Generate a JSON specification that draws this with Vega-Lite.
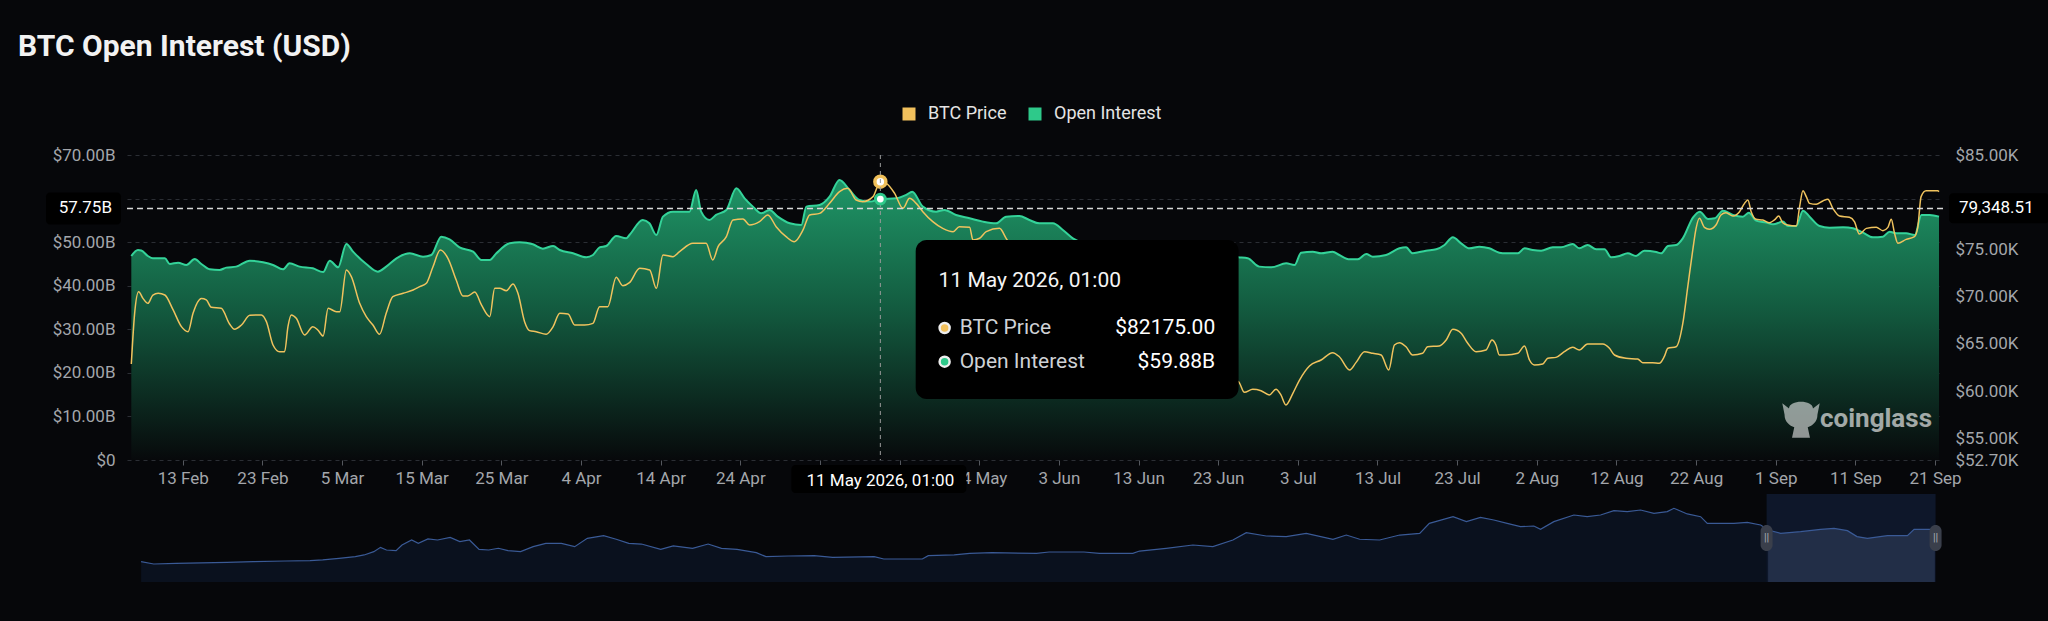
{
  "$schema": "https://vega.github.io/schema/vega-lite/v6.json",
  "background": "#06070a",
  "padding": {"left": 18, "top": 32, "right": 0, "bottom": 41},
  "config": {
    "font": "Roboto",
    "view": {"stroke": null},
    "axis": {"labelFont": "Roboto", "labelFontSize": 17, "labelColor": "#a3a6ab", "domain": false},
    "legend": {"labelFont": "Roboto"},
    "title": {"font": "Roboto"}
  },
  "datasets": {
    "oi": [
      {"date": "2026-02-06T13:00", "v": 46.82}, {"date": "2026-02-07T09:00", "v": 48.2}, {"date": "2026-02-07T19:00", "v": 48.1},
      {"date": "2026-02-08T15:00", "v": 46.82}, {"date": "2026-02-09T06:00", "v": 46.29}, {"date": "2026-02-10T18:00", "v": 46.29},
      {"date": "2026-02-11T09:00", "v": 44.99}, {"date": "2026-02-12T10:00", "v": 45.29}, {"date": "2026-02-13T11:00", "v": 44.76},
      {"date": "2026-02-14T12:00", "v": 46.14}, {"date": "2026-02-15T08:00", "v": 44.99}, {"date": "2026-02-16T09:00", "v": 43.76},
      {"date": "2026-02-17T15:00", "v": 43.61}, {"date": "2026-02-18T11:00", "v": 44.15}, {"date": "2026-02-19T17:00", "v": 44.38},
      {"date": "2026-02-21T10:00", "v": 45.75}, {"date": "2026-02-23T02:00", "v": 45.37}, {"date": "2026-02-24T08:00", "v": 44.76},
      {"date": "2026-02-25T14:00", "v": 43.76}, {"date": "2026-02-26T10:00", "v": 45.14}, {"date": "2026-02-27T16:00", "v": 44.38},
      {"date": "2026-03-01T08:00", "v": 43.99}, {"date": "2026-03-02T15:00", "v": 43.15}, {"date": "2026-03-03T11:00", "v": 45.75},
      {"date": "2026-03-04T12:00", "v": 44.22}, {"date": "2026-03-05T13:00", "v": 49.58}, {"date": "2026-03-06T09:00", "v": 47.82},
      {"date": "2026-03-08T01:00", "v": 44.99}, {"date": "2026-03-09T12:00", "v": 43.23}, {"date": "2026-03-10T13:00", "v": 44.38},
      {"date": "2026-03-11T20:00", "v": 46.29}, {"date": "2026-03-13T12:00", "v": 47.44}, {"date": "2026-03-15T04:00", "v": 46.67},
      {"date": "2026-03-16T05:00", "v": 47.05}, {"date": "2026-03-17T11:00", "v": 51.26}, {"date": "2026-03-18T12:00", "v": 50.65},
      {"date": "2026-03-19T18:00", "v": 48.81}, {"date": "2026-03-21T11:00", "v": 47.82}, {"date": "2026-03-22T12:00", "v": 45.91},
      {"date": "2026-03-23T13:00", "v": 45.91}, {"date": "2026-03-24T09:00", "v": 47.44}, {"date": "2026-03-26T01:00", "v": 49.73},
      {"date": "2026-03-27T07:00", "v": 49.96}, {"date": "2026-03-28T23:00", "v": 49.5}, {"date": "2026-03-30T05:00", "v": 48.51},
      {"date": "2026-03-31T12:00", "v": 49.12}, {"date": "2026-04-01T08:00", "v": 48.2}, {"date": "2026-04-03T00:00", "v": 47.44},
      {"date": "2026-04-04T16:00", "v": 46.52}, {"date": "2026-04-05T12:00", "v": 47.05}, {"date": "2026-04-06T08:00", "v": 48.81},
      {"date": "2026-04-07T04:00", "v": 49.12}, {"date": "2026-04-08T10:00", "v": 51.42}, {"date": "2026-04-09T16:00", "v": 50.88},
      {"date": "2026-04-10T02:00", "v": 51.64}, {"date": "2026-04-11T18:00", "v": 55.09}, {"date": "2026-04-12T14:00", "v": 54.32},
      {"date": "2026-04-13T11:00", "v": 51.64}, {"date": "2026-04-14T07:00", "v": 55.85}, {"date": "2026-04-15T13:00", "v": 57.0},
      {"date": "2026-04-17T15:00", "v": 57.0}, {"date": "2026-04-18T11:00", "v": 61.97}, {"date": "2026-04-19T02:00", "v": 57.0},
      {"date": "2026-04-20T03:00", "v": 55.09}, {"date": "2026-04-20T23:00", "v": 56.24}, {"date": "2026-04-22T06:00", "v": 57.38},
      {"date": "2026-04-23T12:00", "v": 62.36}, {"date": "2026-04-24T13:00", "v": 60.06}, {"date": "2026-04-25T14:00", "v": 58.15},
      {"date": "2026-04-26T15:00", "v": 56.62}, {"date": "2026-04-27T16:00", "v": 57.38}, {"date": "2026-04-28T17:00", "v": 55.85},
      {"date": "2026-04-30T05:00", "v": 54.32}, {"date": "2026-05-01T16:00", "v": 53.94}, {"date": "2026-05-02T07:00", "v": 58.15},
      {"date": "2026-05-03T23:00", "v": 58.53}, {"date": "2026-05-05T05:00", "v": 60.44}, {"date": "2026-05-06T11:00", "v": 64.27},
      {"date": "2026-05-07T17:00", "v": 61.97}, {"date": "2026-05-08T23:00", "v": 59.68}, {"date": "2026-05-10T06:00", "v": 59.3},
      {"date": "2026-05-11T14:00", "v": 59.88}, {"date": "2026-05-13T14:00", "v": 60.06}, {"date": "2026-05-14T20:00", "v": 60.83},
      {"date": "2026-05-15T14:00", "v": 61.59}, {"date": "2026-05-16T22:00", "v": 58.15}, {"date": "2026-05-18T14:00", "v": 57.0},
      {"date": "2026-05-19T15:00", "v": 57.38}, {"date": "2026-05-21T02:00", "v": 56.24}, {"date": "2026-05-22T19:00", "v": 55.47},
      {"date": "2026-05-24T11:00", "v": 54.71}, {"date": "2026-05-26T03:00", "v": 54.32}, {"date": "2026-05-27T09:00", "v": 55.85},
      {"date": "2026-05-29T01:00", "v": 56.01}, {"date": "2026-05-30T07:00", "v": 55.09}, {"date": "2026-05-31T13:00", "v": 54.32},
      {"date": "2026-06-02T06:00", "v": 54.32}, {"date": "2026-06-03T12:00", "v": 52.79}, {"date": "2026-06-04T18:00", "v": 50.88},
      {"date": "2026-06-06T12:00", "v": 49.5}, {"date": "2026-06-09T00:00", "v": 48.9}, {"date": "2026-06-12T00:00", "v": 48.4},
      {"date": "2026-06-15T00:00", "v": 48.1}, {"date": "2026-06-18T00:00", "v": 47.6}, {"date": "2026-06-21T00:00", "v": 47.3},
      {"date": "2026-06-23T12:00", "v": 47.0}, {"date": "2026-06-25T13:00", "v": 46.52}, {"date": "2026-06-26T17:00", "v": 46.29},
      {"date": "2026-06-28T04:00", "v": 44.38}, {"date": "2026-06-29T16:00", "v": 44.22}, {"date": "2026-07-01T13:00", "v": 45.14},
      {"date": "2026-07-02T14:00", "v": 44.76}, {"date": "2026-07-03T10:00", "v": 47.59}, {"date": "2026-07-04T21:00", "v": 47.82},
      {"date": "2026-07-05T22:00", "v": 47.44}, {"date": "2026-07-07T09:00", "v": 47.82}, {"date": "2026-07-08T05:00", "v": 47.05},
      {"date": "2026-07-09T12:00", "v": 46.06}, {"date": "2026-07-10T12:00", "v": 46.06}, {"date": "2026-07-11T14:00", "v": 47.28},
      {"date": "2026-07-12T10:00", "v": 46.67}, {"date": "2026-07-14T02:00", "v": 47.05}, {"date": "2026-07-15T18:00", "v": 48.58},
      {"date": "2026-07-16T14:00", "v": 48.81}, {"date": "2026-07-17T10:00", "v": 47.44}, {"date": "2026-07-19T02:00", "v": 48.05},
      {"date": "2026-07-20T09:00", "v": 48.36}, {"date": "2026-07-21T10:00", "v": 49.35}, {"date": "2026-07-22T11:00", "v": 51.11},
      {"date": "2026-07-23T12:00", "v": 49.73}, {"date": "2026-07-24T13:00", "v": 48.58}, {"date": "2026-07-25T19:00", "v": 48.97},
      {"date": "2026-07-27T01:00", "v": 48.58}, {"date": "2026-07-28T07:00", "v": 47.59}, {"date": "2026-07-29T03:00", "v": 47.44},
      {"date": "2026-07-30T15:00", "v": 47.44}, {"date": "2026-07-31T11:00", "v": 48.58}, {"date": "2026-08-01T12:00", "v": 48.2},
      {"date": "2026-08-02T13:00", "v": 48.05}, {"date": "2026-08-04T00:00", "v": 48.81}, {"date": "2026-08-05T01:00", "v": 48.81},
      {"date": "2026-08-06T12:00", "v": 49.58}, {"date": "2026-08-07T08:00", "v": 48.58}, {"date": "2026-08-08T09:00", "v": 49.35},
      {"date": "2026-08-09T11:00", "v": 48.36}, {"date": "2026-08-10T12:00", "v": 48.36}, {"date": "2026-08-11T08:00", "v": 46.52},
      {"date": "2026-08-12T09:00", "v": 46.82}, {"date": "2026-08-13T10:00", "v": 47.44}, {"date": "2026-08-14T11:00", "v": 46.82},
      {"date": "2026-08-15T12:00", "v": 48.05}, {"date": "2026-08-17T00:00", "v": 47.74}, {"date": "2026-08-17T15:00", "v": 47.44},
      {"date": "2026-08-18T11:00", "v": 49.12}, {"date": "2026-08-19T12:00", "v": 49.35}, {"date": "2026-08-20T08:00", "v": 50.88},
      {"date": "2026-08-21T15:00", "v": 55.7}, {"date": "2026-08-22T11:00", "v": 57.0}, {"date": "2026-08-23T12:00", "v": 55.32},
      {"date": "2026-08-24T08:00", "v": 55.47}, {"date": "2026-08-25T09:00", "v": 57.23}, {"date": "2026-08-26T15:00", "v": 56.24},
      {"date": "2026-08-27T21:00", "v": 55.85}, {"date": "2026-08-28T15:00", "v": 56.77}, {"date": "2026-08-29T13:00", "v": 54.93},
      {"date": "2026-08-30T20:00", "v": 54.48}, {"date": "2026-08-31T16:00", "v": 54.09}, {"date": "2026-09-01T22:00", "v": 54.71},
      {"date": "2026-09-02T13:00", "v": 53.71}, {"date": "2026-09-03T14:00", "v": 53.71}, {"date": "2026-09-04T10:00", "v": 57.23},
      {"date": "2026-09-05T06:00", "v": 55.85}, {"date": "2026-09-06T12:00", "v": 53.71}, {"date": "2026-09-07T18:00", "v": 53.33},
      {"date": "2026-09-09T11:00", "v": 53.4}, {"date": "2026-09-10T17:00", "v": 53.18}, {"date": "2026-09-11T23:00", "v": 52.18},
      {"date": "2026-09-13T05:00", "v": 51.11}, {"date": "2026-09-14T11:00", "v": 51.26}, {"date": "2026-09-15T07:00", "v": 52.41},
      {"date": "2026-09-16T03:00", "v": 52.03}, {"date": "2026-09-17T09:00", "v": 52.03}, {"date": "2026-09-18T11:00", "v": 51.64},
      {"date": "2026-09-19T07:00", "v": 56.24}, {"date": "2026-09-20T08:00", "v": 56.24}, {"date": "2026-09-21T12:00", "v": 55.85}
    ],
    "price": [
      {"date": "2026-02-06T13:00", "p": 62870}, {"date": "2026-02-06T23:00", "p": 68230}, {"date": "2026-02-07T11:00", "p": 70530},
      {"date": "2026-02-08T00:00", "p": 69820}, {"date": "2026-02-08T15:00", "p": 69290}, {"date": "2026-02-09T06:00", "p": 70170},
      {"date": "2026-02-09T22:00", "p": 70350}, {"date": "2026-02-10T18:00", "p": 70170}, {"date": "2026-02-11T19:00", "p": 68590},
      {"date": "2026-02-12T20:00", "p": 66820}, {"date": "2026-02-13T16:00", "p": 66290}, {"date": "2026-02-14T07:00", "p": 68230},
      {"date": "2026-02-15T08:00", "p": 69790}, {"date": "2026-02-15T23:00", "p": 69650}, {"date": "2026-02-16T14:00", "p": 68870},
      {"date": "2026-02-17T20:00", "p": 68760}, {"date": "2026-02-18T21:00", "p": 67100}, {"date": "2026-02-19T12:00", "p": 66540},
      {"date": "2026-02-20T09:00", "p": 67000}, {"date": "2026-02-21T10:00", "p": 68020}, {"date": "2026-02-22T21:00", "p": 68060},
      {"date": "2026-02-23T12:00", "p": 67350}, {"date": "2026-02-24T08:00", "p": 64880}, {"date": "2026-02-25T04:00", "p": 64170},
      {"date": "2026-02-25T19:00", "p": 64170}, {"date": "2026-02-26T05:00", "p": 66820}, {"date": "2026-02-26T15:00", "p": 68060},
      {"date": "2026-02-27T06:00", "p": 67700}, {"date": "2026-02-28T07:00", "p": 65940}, {"date": "2026-03-01T08:00", "p": 66820},
      {"date": "2026-03-01T23:00", "p": 66470}, {"date": "2026-03-02T15:00", "p": 65830}, {"date": "2026-03-03T06:00", "p": 68760},
      {"date": "2026-03-04T07:00", "p": 68410}, {"date": "2026-03-04T17:00", "p": 68410}, {"date": "2026-03-05T13:00", "p": 72820},
      {"date": "2026-03-06T04:00", "p": 72120}, {"date": "2026-03-07T05:00", "p": 69290}, {"date": "2026-03-08T01:00", "p": 67880},
      {"date": "2026-03-08T21:00", "p": 67000}, {"date": "2026-03-09T17:00", "p": 66010}, {"date": "2026-03-10T13:00", "p": 68230},
      {"date": "2026-03-11T09:00", "p": 70000}, {"date": "2026-03-12T16:00", "p": 70350}, {"date": "2026-03-13T22:00", "p": 70700},
      {"date": "2026-03-14T18:00", "p": 71060}, {"date": "2026-03-15T14:00", "p": 71410}, {"date": "2026-03-16T10:00", "p": 73170},
      {"date": "2026-03-17T08:00", "p": 74940}, {"date": "2026-03-18T07:00", "p": 74060}, {"date": "2026-03-19T08:00", "p": 71760},
      {"date": "2026-03-20T04:00", "p": 70070}, {"date": "2026-03-20T19:00", "p": 70070}, {"date": "2026-03-21T16:00", "p": 70490},
      {"date": "2026-03-22T12:00", "p": 69120}, {"date": "2026-03-23T13:00", "p": 67880}, {"date": "2026-03-24T04:00", "p": 70880},
      {"date": "2026-03-24T19:00", "p": 70880}, {"date": "2026-03-25T15:00", "p": 70630}, {"date": "2026-03-26T11:00", "p": 71340},
      {"date": "2026-03-27T02:00", "p": 70350}, {"date": "2026-03-27T22:00", "p": 67350}, {"date": "2026-03-28T13:00", "p": 66400},
      {"date": "2026-03-29T09:00", "p": 66290}, {"date": "2026-03-30T15:00", "p": 66010}, {"date": "2026-03-31T12:00", "p": 66820},
      {"date": "2026-04-01T08:00", "p": 68230}, {"date": "2026-04-02T09:00", "p": 68160}, {"date": "2026-04-03T05:00", "p": 67000},
      {"date": "2026-04-04T11:00", "p": 67000}, {"date": "2026-04-05T12:00", "p": 67170}, {"date": "2026-04-06T08:00", "p": 68940},
      {"date": "2026-04-07T09:00", "p": 68940}, {"date": "2026-04-08T10:00", "p": 72050}, {"date": "2026-04-09T06:00", "p": 71160},
      {"date": "2026-04-10T02:00", "p": 71480}, {"date": "2026-04-11T09:00", "p": 73000}, {"date": "2026-04-12T15:00", "p": 72820},
      {"date": "2026-04-13T11:00", "p": 70880}, {"date": "2026-04-14T07:00", "p": 74410}, {"date": "2026-04-15T13:00", "p": 74230},
      {"date": "2026-04-16T09:00", "p": 74760}, {"date": "2026-04-18T01:00", "p": 75650}, {"date": "2026-04-19T17:00", "p": 75650},
      {"date": "2026-04-20T13:00", "p": 73880}, {"date": "2026-04-21T05:00", "p": 75290}, {"date": "2026-04-22T06:00", "p": 76350},
      {"date": "2026-04-23T02:00", "p": 78120}, {"date": "2026-04-24T08:00", "p": 78220}, {"date": "2026-04-25T04:00", "p": 77590},
      {"date": "2026-04-26T10:00", "p": 77940}, {"date": "2026-04-27T11:00", "p": 78650}, {"date": "2026-04-28T12:00", "p": 77410},
      {"date": "2026-04-29T18:00", "p": 76350}, {"date": "2026-04-30T19:00", "p": 75820}, {"date": "2026-05-01T21:00", "p": 77060},
      {"date": "2026-05-02T17:00", "p": 78650}, {"date": "2026-05-03T23:00", "p": 78820}, {"date": "2026-05-05T05:00", "p": 79880},
      {"date": "2026-05-06T11:00", "p": 81120}, {"date": "2026-05-07T12:00", "p": 81470}, {"date": "2026-05-08T13:00", "p": 80230},
      {"date": "2026-05-09T09:00", "p": 80060}, {"date": "2026-05-10T16:00", "p": 80590}, {"date": "2026-05-11T14:00", "p": 82175},
      {"date": "2026-05-12T08:00", "p": 82000}, {"date": "2026-05-13T09:00", "p": 80940}, {"date": "2026-05-14T10:00", "p": 79350},
      {"date": "2026-05-15T06:00", "p": 80410}, {"date": "2026-05-16T02:00", "p": 79880}, {"date": "2026-05-16T22:00", "p": 79000},
      {"date": "2026-05-18T04:00", "p": 77940}, {"date": "2026-05-19T10:00", "p": 77230}, {"date": "2026-05-20T17:00", "p": 76880},
      {"date": "2026-05-21T12:00", "p": 77410}, {"date": "2026-05-22T19:00", "p": 77340}, {"date": "2026-05-23T05:00", "p": 76000},
      {"date": "2026-05-24T01:00", "p": 76180}, {"date": "2026-05-24T21:00", "p": 76880}, {"date": "2026-05-26T13:00", "p": 77230},
      {"date": "2026-05-27T09:00", "p": 76180}, {"date": "2026-05-28T06:00", "p": 75000}, {"date": "2026-05-30T00:00", "p": 73600},
      {"date": "2026-06-01T12:00", "p": 72000}, {"date": "2026-06-04T00:00", "p": 70200}, {"date": "2026-06-07T00:00", "p": 68500},
      {"date": "2026-06-10T00:00", "p": 67000}, {"date": "2026-06-13T00:00", "p": 65400}, {"date": "2026-06-16T00:00", "p": 64000},
      {"date": "2026-06-19T00:00", "p": 62600}, {"date": "2026-06-22T00:00", "p": 61700}, {"date": "2026-06-25T13:00", "p": 61000},
      {"date": "2026-06-26T07:00", "p": 59870}, {"date": "2026-06-27T08:00", "p": 60190}, {"date": "2026-06-28T09:00", "p": 60040},
      {"date": "2026-06-29T10:00", "p": 59590}, {"date": "2026-06-30T06:00", "p": 60190}, {"date": "2026-06-30T21:00", "p": 59590},
      {"date": "2026-07-01T12:00", "p": 58530}, {"date": "2026-07-02T09:00", "p": 59760}, {"date": "2026-07-03T05:00", "p": 61170},
      {"date": "2026-07-04T11:00", "p": 62660}, {"date": "2026-07-05T22:00", "p": 63290}, {"date": "2026-07-07T09:00", "p": 64070},
      {"date": "2026-07-08T05:00", "p": 63640}, {"date": "2026-07-09T12:00", "p": 62230}, {"date": "2026-07-10T07:00", "p": 63010},
      {"date": "2026-07-11T09:00", "p": 64170}, {"date": "2026-07-12T10:00", "p": 64000}, {"date": "2026-07-13T11:00", "p": 63820},
      {"date": "2026-07-14T10:00", "p": 62230}, {"date": "2026-07-15T03:00", "p": 64880}, {"date": "2026-07-15T18:00", "p": 65130},
      {"date": "2026-07-16T14:00", "p": 64700}, {"date": "2026-07-17T10:00", "p": 63820}, {"date": "2026-07-18T16:00", "p": 64000},
      {"date": "2026-07-19T07:00", "p": 64700}, {"date": "2026-07-20T18:00", "p": 64770}, {"date": "2026-07-21T15:00", "p": 65410},
      {"date": "2026-07-22T11:00", "p": 66540}, {"date": "2026-07-23T12:00", "p": 66120}, {"date": "2026-07-24T08:00", "p": 65060},
      {"date": "2026-07-25T09:00", "p": 64170}, {"date": "2026-07-26T15:00", "p": 64350}, {"date": "2026-07-27T09:00", "p": 65410},
      {"date": "2026-07-27T21:00", "p": 64880}, {"date": "2026-07-28T07:00", "p": 63820}, {"date": "2026-07-29T03:00", "p": 63820},
      {"date": "2026-07-30T15:00", "p": 64000}, {"date": "2026-07-31T11:00", "p": 64770}, {"date": "2026-08-01T02:00", "p": 63290},
      {"date": "2026-08-01T17:00", "p": 62760}, {"date": "2026-08-02T18:00", "p": 62870}, {"date": "2026-08-03T09:00", "p": 63470},
      {"date": "2026-08-04T10:00", "p": 63570}, {"date": "2026-08-05T11:00", "p": 64170}, {"date": "2026-08-06T12:00", "p": 64630},
      {"date": "2026-08-07T08:00", "p": 64350}, {"date": "2026-08-08T09:00", "p": 64990}, {"date": "2026-08-10T07:00", "p": 64990},
      {"date": "2026-08-11T03:00", "p": 64530}, {"date": "2026-08-11T18:00", "p": 63820}, {"date": "2026-08-13T05:00", "p": 63470},
      {"date": "2026-08-14T16:00", "p": 63400}, {"date": "2026-08-15T07:00", "p": 63010}, {"date": "2026-08-16T13:00", "p": 63010},
      {"date": "2026-08-17T09:00", "p": 62940}, {"date": "2026-08-18T00:00", "p": 63640}, {"date": "2026-08-18T11:00", "p": 64530},
      {"date": "2026-08-19T12:00", "p": 64700}, {"date": "2026-08-20T08:00", "p": 67170}, {"date": "2026-08-20T23:00", "p": 71060},
      {"date": "2026-08-21T14:00", "p": 74940}, {"date": "2026-08-22T00:00", "p": 77230}, {"date": "2026-08-22T10:00", "p": 78290},
      {"date": "2026-08-23T01:00", "p": 77340}, {"date": "2026-08-23T16:00", "p": 77130}, {"date": "2026-08-24T12:00", "p": 77590},
      {"date": "2026-08-25T03:00", "p": 78650}, {"date": "2026-08-25T18:00", "p": 78890}, {"date": "2026-08-26T15:00", "p": 78540},
      {"date": "2026-08-27T11:00", "p": 79000}, {"date": "2026-08-28T02:00", "p": 79880}, {"date": "2026-08-28T12:00", "p": 80230},
      {"date": "2026-08-28T22:00", "p": 79000}, {"date": "2026-08-29T13:00", "p": 78190}, {"date": "2026-08-30T09:00", "p": 78120},
      {"date": "2026-08-31T05:00", "p": 77830}, {"date": "2026-08-31T20:00", "p": 78120}, {"date": "2026-09-01T09:00", "p": 78540},
      {"date": "2026-09-01T21:00", "p": 77830}, {"date": "2026-09-02T12:00", "p": 77590}, {"date": "2026-09-03T14:00", "p": 77480},
      {"date": "2026-09-04T00:00", "p": 79530}, {"date": "2026-09-04T10:00", "p": 81220}, {"date": "2026-09-04T20:00", "p": 80590},
      {"date": "2026-09-05T06:00", "p": 79880}, {"date": "2026-09-06T02:00", "p": 79780}, {"date": "2026-09-06T22:00", "p": 80130},
      {"date": "2026-09-07T13:00", "p": 80310}, {"date": "2026-09-08T04:00", "p": 79350}, {"date": "2026-09-09T00:00", "p": 78540},
      {"date": "2026-09-10T06:00", "p": 78400}, {"date": "2026-09-10T21:00", "p": 77940}, {"date": "2026-09-11T12:00", "p": 76630},
      {"date": "2026-09-12T09:00", "p": 77230}, {"date": "2026-09-13T15:00", "p": 77340}, {"date": "2026-09-14T11:00", "p": 76990},
      {"date": "2026-09-15T02:00", "p": 77340}, {"date": "2026-09-15T12:00", "p": 78190}, {"date": "2026-09-15T22:00", "p": 76700},
      {"date": "2026-09-16T08:00", "p": 75650}, {"date": "2026-09-17T09:00", "p": 76070}, {"date": "2026-09-18T10:00", "p": 76350},
      {"date": "2026-09-18T20:00", "p": 77340}, {"date": "2026-09-19T06:00", "p": 80590}, {"date": "2026-09-19T21:00", "p": 81220},
      {"date": "2026-09-21T08:00", "p": 81220}, {"date": "2026-09-21T12:00", "p": 81120}
    ],
    "cross": [
      {"date": "2026-05-11T14:00", "v": 59.88, "p": 82175, "hv": 57.75, "hp": 79348.51, "hvText": "57.75B", "hpText": "79,348.51", "label": "11 May 2026, 01:00"}
    ],
    "tip": [{"date": "2026-05-16T00:30", "date2": "2026-06-25T13:30", "v": 50.49, "v2": 14.0}],
    "tiptitle": [{"text": "11 May 2026, 01:00", "v": 39.78}],
    "tiprows": [
      {"series": "BTC Price", "value": "$82175.00", "v": 30.3},
      {"series": "Open Interest", "value": "$59.88B", "v": 22.56}
    ],
    "wm": [{"text": "coinglass"}],
    "mini": [
      {"date": "2020-02-05", "m": 19.2}, {"date": "2020-02-22", "m": 17.0}, {"date": "2020-03-23", "m": 17.6}, {"date": "2020-05-31", "m": 18.6},
      {"date": "2020-07-05", "m": 19.2}, {"date": "2020-08-17", "m": 19.8}, {"date": "2020-09-20", "m": 20.1}, {"date": "2020-10-07", "m": 20.8},
      {"date": "2020-10-29", "m": 22.3}, {"date": "2020-11-20", "m": 23.9}, {"date": "2020-12-02", "m": 25.5}, {"date": "2020-12-15", "m": 28.6},
      {"date": "2020-12-24", "m": 32.7}, {"date": "2021-01-01", "m": 30.2}, {"date": "2021-01-14", "m": 29.6}, {"date": "2021-01-22", "m": 34.9},
      {"date": "2021-02-04", "m": 39.6}, {"date": "2021-02-13", "m": 36.5}, {"date": "2021-02-26", "m": 40.6}, {"date": "2021-03-11", "m": 39.6},
      {"date": "2021-03-28", "m": 42.1}, {"date": "2021-04-10", "m": 38.1}, {"date": "2021-04-23", "m": 39.6}, {"date": "2021-05-06", "m": 30.8},
      {"date": "2021-05-19", "m": 30.2}, {"date": "2021-06-01", "m": 31.8}, {"date": "2021-06-14", "m": 29.6}, {"date": "2021-07-01", "m": 28.6},
      {"date": "2021-07-18", "m": 33.3}, {"date": "2021-08-04", "m": 36.5}, {"date": "2021-08-25", "m": 36.5}, {"date": "2021-09-12", "m": 33.3},
      {"date": "2021-09-29", "m": 41.2}, {"date": "2021-10-21", "m": 43.7}, {"date": "2021-11-07", "m": 40.3}, {"date": "2021-11-24", "m": 36.5},
      {"date": "2021-12-11", "m": 35.8}, {"date": "2022-01-06", "m": 30.8}, {"date": "2022-01-23", "m": 34.0}, {"date": "2022-02-18", "m": 31.8},
      {"date": "2022-03-11", "m": 35.8}, {"date": "2022-03-29", "m": 31.8}, {"date": "2022-04-19", "m": 30.8}, {"date": "2022-05-15", "m": 27.7},
      {"date": "2022-05-28", "m": 23.9}, {"date": "2022-06-27", "m": 24.5}, {"date": "2022-08-01", "m": 24.8}, {"date": "2022-08-26", "m": 23.3},
      {"date": "2022-10-21", "m": 23.9}, {"date": "2022-11-03", "m": 21.7}, {"date": "2022-12-25", "m": 21.7}, {"date": "2023-01-02", "m": 24.8},
      {"date": "2023-02-06", "m": 25.5}, {"date": "2023-02-27", "m": 27.0}, {"date": "2023-03-29", "m": 27.7}, {"date": "2023-05-28", "m": 27.0},
      {"date": "2023-06-14", "m": 28.3}, {"date": "2023-07-31", "m": 28.3}, {"date": "2023-08-21", "m": 27.0}, {"date": "2023-10-05", "m": 27.0},
      {"date": "2023-10-14", "m": 29.2}, {"date": "2023-11-19", "m": 31.8}, {"date": "2023-12-25", "m": 34.9}, {"date": "2024-01-21", "m": 33.3},
      {"date": "2024-02-17", "m": 39.6}, {"date": "2024-03-06", "m": 46.5}, {"date": "2024-04-02", "m": 43.4}, {"date": "2024-04-29", "m": 42.8},
      {"date": "2024-05-26", "m": 45.9}, {"date": "2024-07-01", "m": 40.3}, {"date": "2024-07-19", "m": 44.3}, {"date": "2024-08-06", "m": 40.3},
      {"date": "2024-09-02", "m": 39.6}, {"date": "2024-09-29", "m": 44.3}, {"date": "2024-10-26", "m": 45.9}, {"date": "2024-11-08", "m": 55.3},
      {"date": "2024-12-10", "m": 61.6}, {"date": "2024-12-28", "m": 56.9}, {"date": "2025-01-16", "m": 61.0}, {"date": "2025-02-03", "m": 58.5},
      {"date": "2025-02-21", "m": 55.3}, {"date": "2025-03-11", "m": 52.2}, {"date": "2025-03-29", "m": 52.8}, {"date": "2025-04-07", "m": 49.7},
      {"date": "2025-04-25", "m": 56.9}, {"date": "2025-05-22", "m": 63.2}, {"date": "2025-06-09", "m": 61.6}, {"date": "2025-06-27", "m": 63.2},
      {"date": "2025-07-15", "m": 67.3}, {"date": "2025-08-02", "m": 66.4}, {"date": "2025-08-20", "m": 67.9}, {"date": "2025-09-07", "m": 64.8},
      {"date": "2025-09-25", "m": 66.4}, {"date": "2025-10-04", "m": 69.5}, {"date": "2025-10-22", "m": 64.2}, {"date": "2025-11-09", "m": 61.6},
      {"date": "2025-11-18", "m": 55.3}, {"date": "2025-12-06", "m": 55.3}, {"date": "2025-12-24", "m": 55.3}, {"date": "2026-01-11", "m": 56.3},
      {"date": "2026-01-29", "m": 53.8}, {"date": "2026-02-08", "m": 49.0}, {"date": "2026-02-25", "m": 45.9}, {"date": "2026-03-24", "m": 47.5},
      {"date": "2026-04-20", "m": 49.7}, {"date": "2026-05-08", "m": 50.6}, {"date": "2026-05-26", "m": 48.4}, {"date": "2026-06-08", "m": 42.8},
      {"date": "2026-06-22", "m": 41.2}, {"date": "2026-07-19", "m": 43.7}, {"date": "2026-08-15", "m": 43.7}, {"date": "2026-08-24", "m": 49.7},
      {"date": "2026-09-16", "m": 49.7}, {"date": "2026-09-21", "m": 49.7}
    ],
    "win": [{"date": "2026-02-06", "date2": "2026-09-22"}],
    "handles": [{"date": "2026-02-06"}, {"date": "2026-09-22"}]
  },
  "spacing": 34,
  "bounds": "flush",
  "resolve": {"scale": {"color": "independent"}, "legend": {"color": "independent"}},
  "vconcat": [
    {
      "width": 1816,
      "height": 305,
      "title": {"text": "BTC Open Interest (USD)", "anchor": "start", "frame": "group", "dx": -109, "offset": 43, "fontSize": 30, "fontWeight": "bold", "color": "#f2f2f2", "font": "Roboto"},
      "resolve": {"scale": {"y": "independent"}},
      "layer": [
        {
          "layer": [
            {
              "data": {"name": "oi"},
              "mark": {"type": "area", "interpolate": "monotone", "fill": {"gradient": "linear", "x1": 0, "y1": 0, "x2": 0, "y2": 1, "stops": [{"offset": 0, "color": "#1f9667"}, {"offset": 0.45, "color": "#135c40"}, {"offset": 1, "color": "#07090b"}]}},
              "encoding": {
                "x": {"field": "date", "type": "temporal", "title": null,
                  "scale": {"domain": [{"year": 2026, "month": 2, "date": 6}, {"year": 2026, "month": 9, "date": 22}]},
                  "axis": {"values": [
                    {"year": 2026, "month": 2, "date": 13}, {"year": 2026, "month": 2, "date": 23}, {"year": 2026, "month": 3, "date": 5},
                    {"year": 2026, "month": 3, "date": 15}, {"year": 2026, "month": 3, "date": 25}, {"year": 2026, "month": 4, "date": 4},
                    {"year": 2026, "month": 4, "date": 14}, {"year": 2026, "month": 4, "date": 24}, {"year": 2026, "month": 5, "date": 4},
                    {"year": 2026, "month": 5, "date": 14}, {"year": 2026, "month": 5, "date": 24}, {"year": 2026, "month": 6, "date": 3},
                    {"year": 2026, "month": 6, "date": 13}, {"year": 2026, "month": 6, "date": 23}, {"year": 2026, "month": 7, "date": 3},
                    {"year": 2026, "month": 7, "date": 13}, {"year": 2026, "month": 7, "date": 23}, {"year": 2026, "month": 8, "date": 2},
                    {"year": 2026, "month": 8, "date": 12}, {"year": 2026, "month": 8, "date": 22}, {"year": 2026, "month": 9, "date": 1},
                    {"year": 2026, "month": 9, "date": 11}, {"year": 2026, "month": 9, "date": 21}],
                    "labelExpr": "(month(datum.value) == 4 && (date(datum.value) == 4 || date(datum.value) == 14)) ? '' : timeFormat(datum.value, '%-d %b')",
                    "labelFontSize": 17, "labelColor": "#a3a6ab", "ticks": true, "tickSize": 5, "tickColor": "#55585e",
                    "grid": false, "domain": false, "labelPadding": 5, "labelOverlap": false, "labelFlush": false}},
                "y": {"field": "v", "type": "quantitative", "title": null, "scale": {"domain": [0, 70], "nice": false},
                  "axis": {"orient": "left", "values": [0, 10, 20, 30, 40, 50, 60, 70],
                    "labelExpr": "datum.value == 60 ? '' : (datum.value == 0 ? '$0' : '$' + format(datum.value, '.2f') + 'B')",
                    "grid": true, "gridColor": "#2b2e34", "gridDash": [4, 4], "ticks": false, "tickSize": 0, "domain": false,
                    "labelPadding": 12, "labelOverlap": false, "labelFontSize": 17, "labelColor": "#a3a6ab"}}
              }
            },
            {
              "data": {"name": "oi"},
              "mark": {"type": "line", "interpolate": "monotone", "stroke": "#34d399", "strokeWidth": 2},
              "encoding": {
                "x": {"field": "date", "type": "temporal", "title": null, "scale": {"domain": [{"year": 2026, "month": 2, "date": 6}, {"year": 2026, "month": 9, "date": 22}]}},
                "y": {"field": "v", "type": "quantitative", "title": null, "scale": {"domain": [0, 70], "nice": false}}
              }
            }
          ]
        },
        {
          "layer": [
            {
              "data": {"name": "price"},
              "mark": {"type": "line", "interpolate": "monotone", "stroke": "#f0c35e", "strokeWidth": 1.5},
              "encoding": {
                "x": {"field": "date", "type": "temporal", "title": null, "scale": {"domain": [{"year": 2026, "month": 2, "date": 6}, {"year": 2026, "month": 9, "date": 22}]}},
                "y": {"field": "p", "type": "quantitative", "title": null, "scale": {"domain": [52700, 85000], "nice": false, "zero": false},
                  "axis": {"orient": "right", "values": [52700, 55000, 60000, 65000, 70000, 75000, 80000, 85000],
                    "labelExpr": "datum.value == 80000 ? '' : '$' + format(datum.value / 1000, '.2f') + 'K'",
                    "grid": false, "ticks": false, "tickSize": 0, "domain": false, "labelPadding": 12, "labelOverlap": false,
                    "labelFontSize": 17, "labelColor": "#a3a6ab"}}
              }
            },
            {
              "data": {"name": "cross"},
              "mark": {"type": "point", "filled": true, "fill": "#ffffff", "stroke": "#f0c05a", "strokeWidth": 3.5, "size": 120, "opacity": 1},
              "encoding": {
                "x": {"field": "date", "type": "temporal", "title": null, "scale": {"domain": [{"year": 2026, "month": 2, "date": 6}, {"year": 2026, "month": 9, "date": 22}]}},
                "y": {"field": "p", "type": "quantitative", "title": null, "scale": {"domain": [52700, 85000], "nice": false, "zero": false}}
              }
            },
            {
              "data": {"name": "cross"},
              "mark": {"type": "rect", "fill": "#000000", "cornerRadius": 4, "xOffset": 6, "x2Offset": 106, "yOffset": -15, "y2Offset": 15},
              "encoding": {
                "x": {"datum": {"year": 2026, "month": 9, "date": 22}, "type": "temporal", "title": null, "scale": {"domain": [{"year": 2026, "month": 2, "date": 6}, {"year": 2026, "month": 9, "date": 22}]}},
                "x2": {"datum": {"year": 2026, "month": 9, "date": 22}},
                "y": {"field": "hp", "type": "quantitative", "title": null, "scale": {"domain": [52700, 85000], "nice": false, "zero": false}},
                "y2": {"field": "hp"}
              }
            },
            {
              "data": {"name": "cross"},
              "mark": {"type": "text", "align": "left", "baseline": "middle", "dx": 16, "fontSize": 17, "fill": "#ffffff", "font": "Roboto"},
              "encoding": {
                "x": {"datum": {"year": 2026, "month": 9, "date": 22}, "type": "temporal", "title": null, "scale": {"domain": [{"year": 2026, "month": 2, "date": 6}, {"year": 2026, "month": 9, "date": 22}]}},
                "y": {"field": "hp", "type": "quantitative", "title": null, "scale": {"domain": [52700, 85000], "nice": false, "zero": false}},
                "text": {"field": "hpText"}
              }
            }
          ]
        },
        {
          "layer": [
            {
              "data": {"name": "cross"},
              "mark": {"type": "rule", "stroke": "#9a9a9a", "strokeDash": [4, 4], "strokeWidth": 1},
              "encoding": {
                "x": {"field": "date", "type": "temporal", "title": null, "scale": {"domain": [{"year": 2026, "month": 2, "date": 6}, {"year": 2026, "month": 9, "date": 22}]}}
              }
            },
            {
              "data": {"name": "cross"},
              "mark": {"type": "rule", "stroke": "#d9d9d9", "strokeDash": [6, 4], "strokeWidth": 1.5},
              "encoding": {
                "y": {"field": "hv", "type": "quantitative", "title": null, "axis": null, "scale": {"domain": [0, 70], "nice": false}}
              }
            },
            {
              "data": {"name": "cross"},
              "mark": {"type": "point", "filled": true, "fill": "#ffffff", "stroke": "#2ec98a", "strokeWidth": 3, "size": 95, "opacity": 1},
              "encoding": {
                "x": {"field": "date", "type": "temporal", "title": null, "scale": {"domain": [{"year": 2026, "month": 2, "date": 6}, {"year": 2026, "month": 9, "date": 22}]}},
                "y": {"field": "v", "type": "quantitative", "title": null, "axis": null, "scale": {"domain": [0, 70], "nice": false}}
              }
            },
            {
              "data": {"name": "cross"},
              "mark": {"type": "rect", "fill": "#000000", "cornerRadius": 4, "xOffset": -81, "x2Offset": -6, "yOffset": -16, "y2Offset": 16},
              "encoding": {
                "x": {"datum": {"year": 2026, "month": 2, "date": 6}, "type": "temporal", "title": null, "scale": {"domain": [{"year": 2026, "month": 2, "date": 6}, {"year": 2026, "month": 9, "date": 22}]}},
                "x2": {"datum": {"year": 2026, "month": 2, "date": 6}},
                "y": {"field": "hv", "type": "quantitative", "title": null, "axis": null, "scale": {"domain": [0, 70], "nice": false}},
                "y2": {"field": "hv"}
              }
            },
            {
              "data": {"name": "cross"},
              "mark": {"type": "text", "align": "right", "baseline": "middle", "dx": -15, "fontSize": 17, "fill": "#ffffff", "font": "Roboto"},
              "encoding": {
                "x": {"datum": {"year": 2026, "month": 2, "date": 6}, "type": "temporal", "title": null, "scale": {"domain": [{"year": 2026, "month": 2, "date": 6}, {"year": 2026, "month": 9, "date": 22}]}},
                "y": {"field": "hv", "type": "quantitative", "title": null, "axis": null, "scale": {"domain": [0, 70], "nice": false}},
                "text": {"field": "hvText"}
              }
            },
            {
              "data": {"name": "cross"},
              "mark": {"type": "rect", "fill": "#000000", "cornerRadius": 4, "xOffset": -89, "x2Offset": 86, "yOffset": 5, "y2Offset": 33},
              "encoding": {
                "x": {"field": "date", "type": "temporal", "title": null, "scale": {"domain": [{"year": 2026, "month": 2, "date": 6}, {"year": 2026, "month": 9, "date": 22}]}},
                "x2": {"field": "date"},
                "y": {"datum": 0, "type": "quantitative", "title": null, "axis": null, "scale": {"domain": [0, 70], "nice": false}},
                "y2": {"datum": 0}
              }
            },
            {
              "data": {"name": "cross"},
              "mark": {"type": "text", "align": "center", "baseline": "middle", "dy": 21, "fontSize": 17, "fill": "#ffffff", "font": "Roboto"},
              "encoding": {
                "x": {"field": "date", "type": "temporal", "title": null, "scale": {"domain": [{"year": 2026, "month": 2, "date": 6}, {"year": 2026, "month": 9, "date": 22}]}},
                "y": {"datum": 0, "type": "quantitative", "title": null, "axis": null, "scale": {"domain": [0, 70], "nice": false}},
                "text": {"field": "label"}
              }
            },
            {
              "data": {"name": "tip"},
              "mark": {"type": "rect", "fill": "#000000", "cornerRadius": 11},
              "encoding": {
                "x": {"field": "date", "type": "temporal", "title": null, "scale": {"domain": [{"year": 2026, "month": 2, "date": 6}, {"year": 2026, "month": 9, "date": 22}]}},
                "x2": {"field": "date2"},
                "y": {"field": "v", "type": "quantitative", "title": null, "axis": null, "scale": {"domain": [0, 70], "nice": false}},
                "y2": {"field": "v2"}
              }
            },
            {
              "data": {"name": "tiptitle"},
              "mark": {"type": "text", "align": "left", "baseline": "alphabetic", "fontSize": 21, "fill": "#f5f5f5", "font": "Roboto"},
              "encoding": {
                "x": {"datum": {"year": 2026, "month": 5, "date": 18, "hours": 21, "minutes": 30}, "type": "temporal", "title": null, "scale": {"domain": [{"year": 2026, "month": 2, "date": 6}, {"year": 2026, "month": 9, "date": 22}]}},
                "y": {"field": "v", "type": "quantitative", "title": null, "axis": null, "scale": {"domain": [0, 70], "nice": false}},
                "text": {"field": "text"}
              }
            },
            {
              "data": {"name": "tiprows"},
              "mark": {"type": "point", "filled": true, "size": 100, "stroke": "#eeeeee", "strokeWidth": 2.5, "opacity": 1},
              "encoding": {
                "x": {"datum": {"year": 2026, "month": 5, "date": 19, "hours": 15, "minutes": 40}, "type": "temporal", "title": null, "scale": {"domain": [{"year": 2026, "month": 2, "date": 6}, {"year": 2026, "month": 9, "date": 22}]}},
                "y": {"field": "v", "type": "quantitative", "title": null, "axis": null, "scale": {"domain": [0, 70], "nice": false}},
                "color": {"field": "series", "type": "nominal",
                  "scale": {"domain": ["BTC Price", "Open Interest"], "range": ["#f1c05c", "#2ec98a"]},
                  "legend": {"orient": "none", "legendX": 773, "legendY": -50, "direction": "horizontal", "title": null,
                    "symbolType": "square", "symbolSize": 169, "symbolStrokeWidth": 0, "symbolOpacity": 1,
                    "labelFontSize": 18, "labelColor": "#e4e4e4", "labelFont": "Roboto", "labelOffset": 10, "columnPadding": 19, "padding": 0}}
              }
            },
            {
              "data": {"name": "tiprows"},
              "mark": {"type": "text", "align": "left", "baseline": "middle", "fontSize": 21, "fill": "#cfd2d6", "font": "Roboto"},
              "encoding": {
                "x": {"datum": {"year": 2026, "month": 5, "date": 21, "hours": 13}, "type": "temporal", "title": null, "scale": {"domain": [{"year": 2026, "month": 2, "date": 6}, {"year": 2026, "month": 9, "date": 22}]}},
                "y": {"field": "v", "type": "quantitative", "title": null, "axis": null, "scale": {"domain": [0, 70], "nice": false}},
                "text": {"field": "series"}
              }
            },
            {
              "data": {"name": "tiprows"},
              "mark": {"type": "text", "align": "right", "baseline": "middle", "fontSize": 21, "fontWeight": "normal", "fill": "#ffffff", "font": "Roboto"},
              "encoding": {
                "x": {"datum": {"year": 2026, "month": 6, "date": 22, "hours": 15}, "type": "temporal", "title": null, "scale": {"domain": [{"year": 2026, "month": 2, "date": 6}, {"year": 2026, "month": 9, "date": 22}]}},
                "y": {"field": "v", "type": "quantitative", "title": null, "axis": null, "scale": {"domain": [0, 70], "nice": false}},
                "text": {"field": "value"}
              }
            },
            {
              "data": {"name": "wm"},
              "mark": {"type": "point", "filled": true, "fill": "#ffffff", "opacity": 0.55, "size": 5600, "xOffset": -142, "strokeWidth": 0,
                "shape": "M -0.32,-0.28 C -0.32,-0.52 0.32,-0.52 0.32,-0.28 L 0.5,-0.42 L 0.44,-0.12 C 0.44,0.08 0.3,0.18 0.18,0.22 L 0.24,0.5 L -0.24,0.5 L -0.18,0.22 C -0.3,0.18 -0.44,0.08 -0.44,-0.12 L -0.5,-0.42 Z"},
              "encoding": {
                "x": {"datum": {"year": 2026, "month": 9, "date": 22}, "type": "temporal", "title": null, "scale": {"domain": [{"year": 2026, "month": 2, "date": 6}, {"year": 2026, "month": 9, "date": 22}]}},
                "y": {"datum": 9.4, "type": "quantitative", "title": null, "axis": null, "scale": {"domain": [0, 70], "nice": false}}
              }
            },
            {
              "data": {"name": "wm"},
              "mark": {"type": "text", "align": "right", "baseline": "alphabetic", "dx": -11, "fontSize": 26, "fontWeight": "bold", "fill": "#ffffff", "opacity": 0.62, "font": "Roboto"},
              "encoding": {
                "x": {"datum": {"year": 2026, "month": 9, "date": 22}, "type": "temporal", "title": null, "scale": {"domain": [{"year": 2026, "month": 2, "date": 6}, {"year": 2026, "month": 9, "date": 22}]}},
                "y": {"datum": 7.5, "type": "quantitative", "title": null, "axis": null, "scale": {"domain": [0, 70], "nice": false}},
                "text": {"field": "text"}
              }
            }
          ]
        }
      ]
    },
    {
      "width": 1816,
      "height": 88,
      "layer": [
        {
          "data": {"name": "mini"},
          "mark": {"type": "area", "fill": "#0a111e"},
          "encoding": {
            "x": {"field": "date", "type": "temporal", "title": null, "axis": null, "scale": {"domain": [{"year": 2020, "month": 1, "date": 17}, {"year": 2026, "month": 10, "date": 2}]}},
            "y": {"field": "m", "type": "quantitative", "title": null, "axis": null, "scale": {"domain": [0, 83], "nice": false}}
          }
        },
        {
          "data": {"name": "win"},
          "mark": {"type": "rect", "fill": "#0e172a"},
          "encoding": {
            "x": {"field": "date", "type": "temporal", "title": null, "axis": null, "scale": {"domain": [{"year": 2020, "month": 1, "date": 17}, {"year": 2026, "month": 10, "date": 2}]}},
            "x2": {"field": "date2"}
          }
        },
        {
          "data": {"name": "mini"},
          "transform": [{"filter": {"field": "date", "gte": {"year": 2026, "month": 2, "date": 6}}}],
          "mark": {"type": "area", "fill": "#222e47"},
          "encoding": {
            "x": {"field": "date", "type": "temporal", "title": null, "axis": null, "scale": {"domain": [{"year": 2020, "month": 1, "date": 17}, {"year": 2026, "month": 10, "date": 2}]}},
            "y": {"field": "m", "type": "quantitative", "title": null, "axis": null, "scale": {"domain": [0, 83], "nice": false}}
          }
        },
        {
          "data": {"name": "mini"},
          "mark": {"type": "line", "stroke": "#3a5a96", "strokeWidth": 1.2},
          "encoding": {
            "x": {"field": "date", "type": "temporal", "title": null, "axis": null, "scale": {"domain": [{"year": 2020, "month": 1, "date": 17}, {"year": 2026, "month": 10, "date": 2}]}},
            "y": {"field": "m", "type": "quantitative", "title": null, "axis": null, "scale": {"domain": [0, 83], "nice": false}}
          }
        },
        {
          "data": {"name": "handles"},
          "mark": {"type": "rect", "fill": "#3a3f4b", "cornerRadius": 6, "xOffset": -6, "x2Offset": 6},
          "encoding": {
            "x": {"field": "date", "type": "temporal", "title": null, "axis": null, "scale": {"domain": [{"year": 2020, "month": 1, "date": 17}, {"year": 2026, "month": 10, "date": 2}]}},
            "x2": {"field": "date"},
            "y": {"datum": 53.8, "type": "quantitative", "title": null, "axis": null, "scale": {"domain": [0, 83], "nice": false}},
            "y2": {"datum": 29.2}
          }
        },
        {
          "data": {"name": "handles"},
          "mark": {"type": "text", "text": "||", "fontSize": 11, "fill": "#a6acb6", "align": "center", "baseline": "middle", "font": "Roboto"},
          "encoding": {
            "x": {"field": "date", "type": "temporal", "title": null, "axis": null, "scale": {"domain": [{"year": 2020, "month": 1, "date": 17}, {"year": 2026, "month": 10, "date": 2}]}},
            "y": {"datum": 41.5, "type": "quantitative", "title": null, "axis": null, "scale": {"domain": [0, 83], "nice": false}}
          }
        }
      ]
    }
  ]
}
